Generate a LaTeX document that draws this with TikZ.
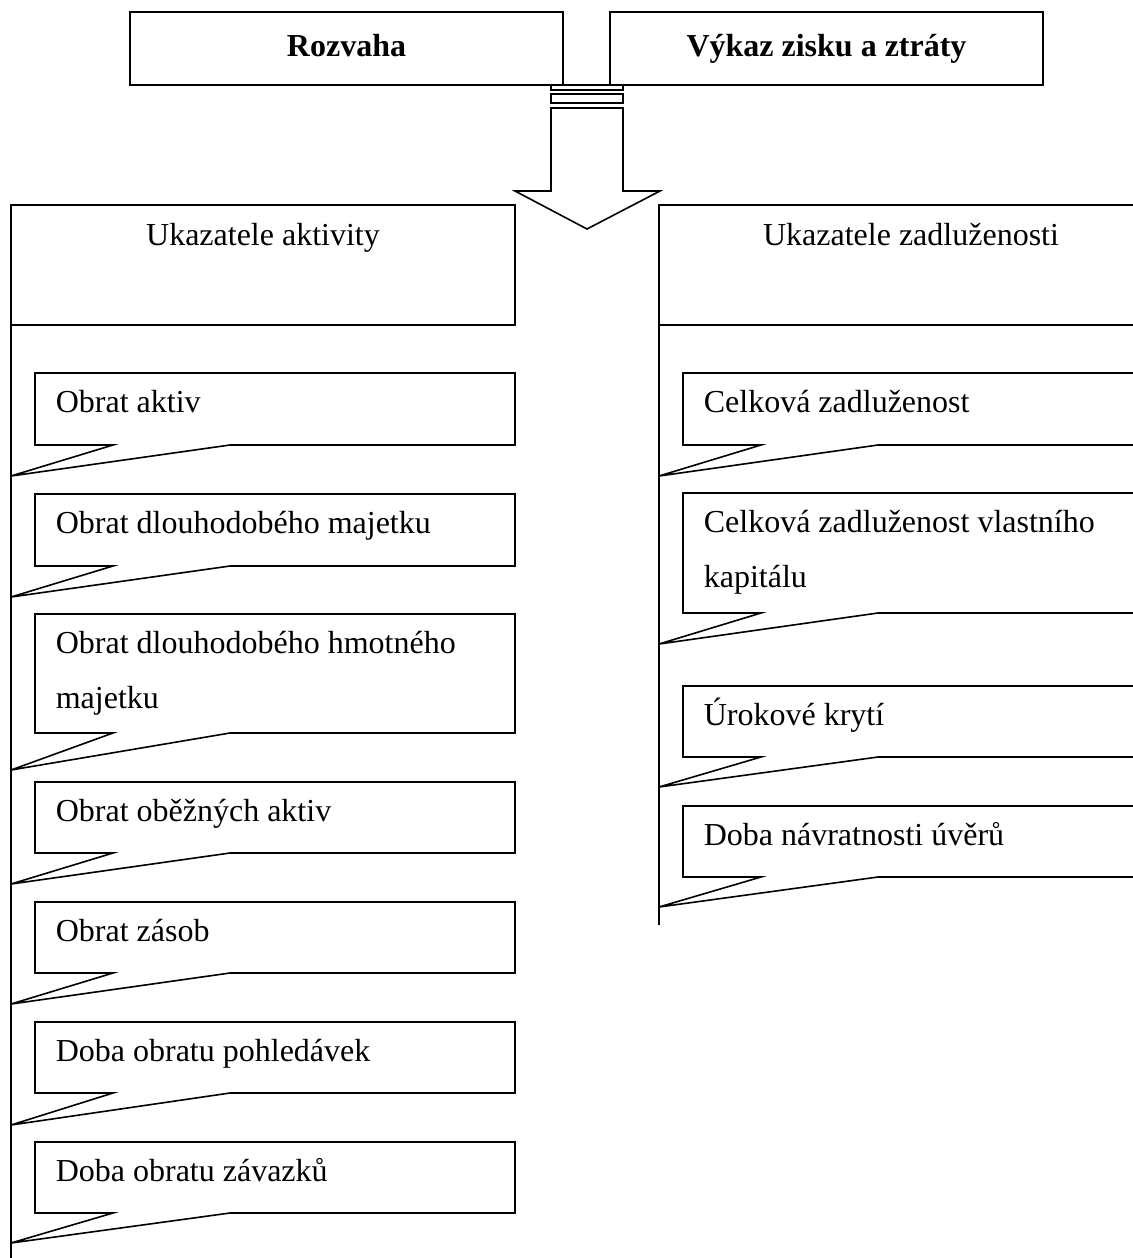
\documentclass[tikz,border=0pt]{standalone}
\usepackage{fontspec}
\setmainfont{Liberation Serif}
\usetikzlibrary{arrows.meta, positioning}

\begin{document}
\begin{tikzpicture}[x=0.5pt, y=-0.5pt, line width=0.8pt,
    font=\fontsize{16}{27.5}\selectfont,
    hlavicka/.style={font=\fontsize{16}{27.5}\selectfont\bfseries, anchor=base},
    polozka/.style={anchor=base west, inner sep=0pt}]
  \useasboundingbox (0,0) rectangle (1133,1258);
  \clip (0,0) rectangle (1133,1258);

  % Horní rámečky
  \draw (130,12) rectangle (563,85);
  \draw (610,12) rectangle (1043,85);
  \node[hlavicka] (rozvaha) at (346.5,56) {Rozvaha};
  \node[hlavicka] (vykaz) at (826.5,56) {Výkaz zisku a ztráty};

  % Šipka
  \draw[fill=white] (551,85) rectangle (623,90);
  \draw[fill=white] (551,94) rectangle (623,103);
  \draw[fill=white] (551,108) -- (551,191) -- (515,191) -- (587,229)
    -- (660,191) -- (623,191) -- (623,108) -- cycle;

  % Ukazatele aktivity
  \draw (11,205) rectangle (515,325);
  \draw (11,325) -- (11,1258);
  \node[anchor=base] (aktivita) at (263,245) {Ukazatele aktivity};
  \foreach \t/\b/\p/\txt [count=\i] in {
      373/445/476/Obrat aktiv,
      494/566/597/Obrat dlouhodobého majetku,
      614/733/770/Obrat dlouhodobého hmotného\\majetku,
      782/853/884/Obrat oběžných aktiv,
      902/973/1004/Obrat zásob,
      1022/1093/1125/Doba obratu pohledávek,
      1142/1213/1243/Doba obratu závazků} {
    \draw (35,\t) -- (515,\t) -- (515,\b) -- (230,\b) -- (11,\p)
      -- (113,\b) -- (35,\b) -- cycle;
    \node[polozka] (akt\i) at (55,{\t+39})
      {\begin{tabular}[t]{@{}l@{}}\txt\end{tabular}};
  }

  % Ukazatele zadluženosti
  \draw (659,205) rectangle (1163,325);
  \draw (659,325) -- (659,925);
  \node[anchor=base] (zadluzenost) at (911,245) {Ukazatele zadluženosti};
  \foreach \t/\b/\p/\txt [count=\i] in {
      373/445/476/Celková zadluženost,
      493/613/644/Celková zadluženost vlastního\\kapitálu,
      686/757/787/Úrokové krytí,
      806/877/907/Doba návratnosti úvěrů} {
    \draw (683,\t) -- (1163,\t) -- (1163,\b) -- (878,\b) -- (659,\p)
      -- (761,\b) -- (683,\b) -- cycle;
    \node[polozka] (zad\i) at (703,{\t+39})
      {\begin{tabular}[t]{@{}l@{}}\txt\end{tabular}};
  }
\end{tikzpicture}
\end{document}
